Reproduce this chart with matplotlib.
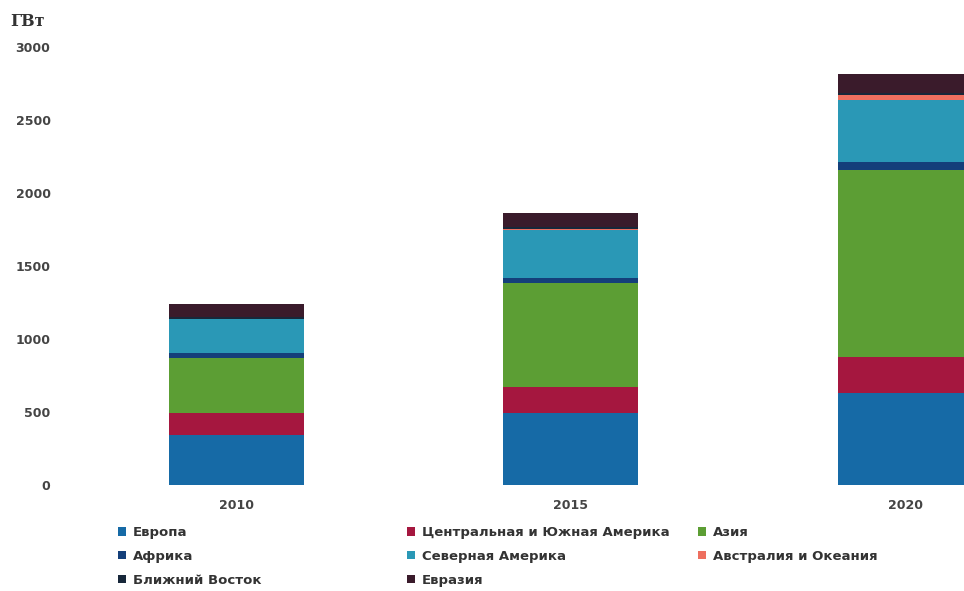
import numpy as np
import matplotlib
matplotlib.use("Agg")
import matplotlib.pyplot as plt

years = ["2010", "2015", "2020"]
regions = ["Европа", "Центральная и Южная Америка", "Азия", "Африка",
           "Северная Америка", "Австралия и Океания", "Ближний Восток", "Евразия"]
europe = [342, 493, 630]
cs_america = [150, 178, 247]
asia = [377, 712, 1281]
africa = [34, 34, 55]
n_america = [233, 329, 425]
australia = [3, 6, 30]
middle_east = [12, 16, 18]
eurasia = [89, 94, 129]
series = [europe, cs_america, asia, africa, n_america, australia, middle_east, eurasia]
colors = ["#166aa6", "#a5173f", "#5c9e34", "#143f7a", "#2a98b6", "#ee6f5f", "#17273a", "#3a1b2b"]

W, H = 964, 591
fig = plt.figure(figsize=(W / 100, H / 100), dpi=100)
ax = fig.add_axes([70 / W, 1 - 485 / H, (W - 70) / W, (485 - 47) / H])

x = np.arange(len(years))
bottom = np.zeros(len(years))
handles = []
for vals, col, name in zip(series, colors, regions):
    b = ax.bar(x, vals, width=0.403, bottom=bottom, color=col, label=name,
               edgecolor="none")
    handles.append(b)
    bottom += np.array(vals)

ax.set_xlim(-0.497, 2.176)
ax.set_ylim(0, 3000)
ax.set_yticks([0, 500, 1000, 1500, 2000, 2500, 3000])
ax.set_xticks(x)
ax.set_xticklabels(years)
for s in ax.spines.values():
    s.set_visible(False)
ax.tick_params(length=0, colors="#444444", labelsize=9)
ax.tick_params(axis="y", pad=14)
ax.tick_params(axis="x", pad=10)
for t in ax.get_xticklabels() + ax.get_yticklabels():
    t.set_fontweight("bold")

fig.text(10 / W, 1 - 22 / H, "ГВт", family="DejaVu Serif", fontsize=11.5,
         fontweight="bold", color="#333333", va="center")

# legend rows: three fixed columns
cols = [[0, 3, 6], [1, 4, 7], [2, 5]]
xpos = [118, 407, 698]
for idx, xp in zip(cols, xpos):
    leg = fig.legend([handles[i] for i in idx], [regions[i] for i in idx],
                     loc="upper left", bbox_to_anchor=(xp / W, 1 - 526 / H),
                     frameon=False, ncol=1, fontsize=9.5, handlelength=0.6,
                     handleheight=0.6, handletextpad=0.5, labelspacing=0.82,
                     borderaxespad=0, borderpad=0)
    for t in leg.get_texts():
        t.set_color("#333333")
        t.set_fontweight("bold")

fig.savefig("out.png", dpi=100)
